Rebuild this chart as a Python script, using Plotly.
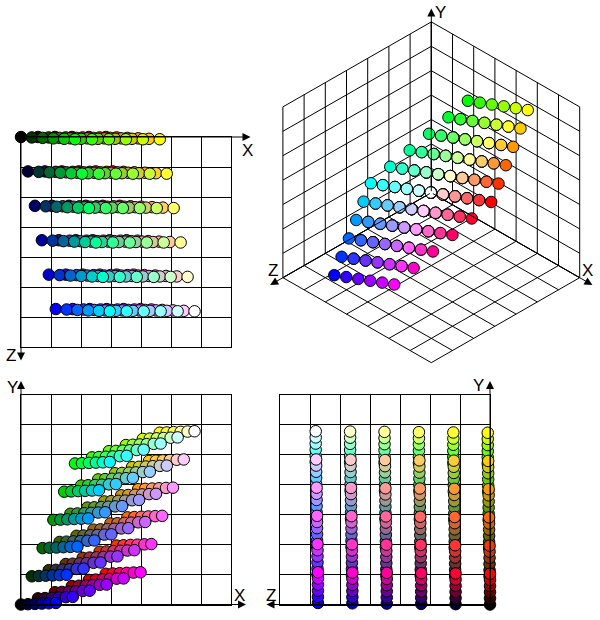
import itertools
import plotly.graph_objects as go

# Six levels of each colour channel (web-safe palette)
CHANNEL_LEVELS = [0, 51, 102, 153, 204, 255]

# Position on each plotted axis (in grid cells) contributed by each channel level
X_FROM_R = [0.0, 0.565, 1.13, 1.695, 2.26, 2.825]
X_FROM_G = [0.0, 0.36, 0.72, 1.08, 1.44, 1.80]
X_FROM_B = [0.0, 0.232, 0.464, 0.696, 0.928, 1.16]
Y_FROM_R = [0.0, 0.205, 0.41, 0.615, 0.82, 1.025]
Y_FROM_G = [0.0, 0.94, 1.88, 2.82, 3.76, 4.70]
Y_FROM_B = [0.0, 0.01, 0.02, 0.03, 0.04, 0.05]
Z_FROM_G = [0.0, 0.015, 0.03, 0.045, 0.06, 0.075]
Z_FROM_B = [0.0, 1.147, 2.294, 3.441, 4.588, 5.735]

GRID_STEPS = [0, 1, 2, 3, 4, 5, 6, 7]
AXIS_LABELS = ["X", "Y", "Z"]

W, H = 600, 620
FONT = dict(family="Liberation Sans, Arial, sans-serif", size=17, color="black")

xs, ys, zs, colors = [], [], [], []
for ir, ig, ib in itertools.product(range(6), repeat=3):
    xs.append(X_FROM_R[ir] + X_FROM_G[ig] + X_FROM_B[ib])
    ys.append(Y_FROM_R[ir] + Y_FROM_G[ig] + Y_FROM_B[ib])
    zs.append(Z_FROM_G[ig] + Z_FROM_B[ib])
    colors.append(f"rgb({CHANNEL_LEVELS[ir]},{CHANNEL_LEVELS[ig]},{CHANNEL_LEVELS[ib]})")

# isometric projection factors (grid cells on screen per cell of data)
ISO_U, ISO_V, ISO_Y = 21.2 / 30, 12.14 / 30, 24.4 / 30


def iso(x, y, z):
    return (x - z) * ISO_U, y * ISO_Y - (x + z) * ISO_V


def order(keys):
    return sorted(range(len(keys)), key=lambda i: keys[i])


fig = go.Figure()


def add_points(px, py, depth, xa, ya):
    idx = order(depth)
    fig.add_trace(go.Scatter(
        x=[px[i] for i in idx], y=[py[i] for i in idx], mode="markers",
        xaxis=xa, yaxis=ya, cliponaxis=False, hoverinfo="skip", showlegend=False,
        marker=dict(size=11.5, color=[colors[i] for i in idx], line=dict(color="black", width=1)),
    ))


def panel_axis(x0, x1, rng):
    return dict(domain=[x0, x1], range=rng, tick0=0, dtick=1, showgrid=True, gridcolor="black",
                gridwidth=1, showline=True, mirror=True, linecolor="black", linewidth=1,
                zeroline=False, showticklabels=False, ticks="", fixedrange=True)


def px_x(v):
    return v / W


def px_y(v):
    return 1 - v / H


layout = dict(
    width=W, height=H, margin=dict(l=0, r=0, t=0, b=0, pad=0), autosize=False,
    paper_bgcolor="white", plot_bgcolor="white", showlegend=False,
)

# top-left X-Z
layout["xaxis"] = dict(panel_axis(px_x(21), px_x(231), [0, 7]), anchor="y")
layout["yaxis"] = dict(panel_axis(px_y(347), px_y(137), [7, 0]), anchor="x")
# bottom-left X-Y
layout["xaxis3"] = dict(panel_axis(px_x(21), px_x(231), [0, 7]), anchor="y3")
layout["yaxis3"] = dict(panel_axis(px_y(604.5), px_y(394.5), [0, 7]), anchor="x3")
# bottom-right Z-Y
layout["xaxis4"] = dict(panel_axis(px_x(280), px_x(490), [7, 0]), anchor="y4")
layout["yaxis4"] = dict(panel_axis(px_y(604.5), px_y(394.5), [0, 7]), anchor="x4")
# isometric
OX, OY = 431.3, 192.7
L, R, T, B = 262.0, 600.0, 0.0, 372.0
layout["xaxis2"] = dict(domain=[px_x(L), px_x(R)], range=[(L - OX) / 30, (R - OX) / 30], visible=False,
                        anchor="y2", fixedrange=True)
layout["yaxis2"] = dict(domain=[px_y(B), px_y(T)], range=[(OY - B) / 30, (OY - T) / 30], visible=False,
                        anchor="x2", fixedrange=True)

# isometric wall and floor grid
gx, gy = [], []
last = GRID_STEPS[-1]


def seg(a, b):
    ua, va = iso(*a)
    ub, vb = iso(*b)
    gx.extend([ua, ub, None])
    gy.extend([va, vb, None])


for s in GRID_STEPS:
    seg((s, 0, 0), (s, 0, last))
    seg((0, 0, s), (last, 0, s))
    seg((s, 0, 0), (s, last, 0))
    seg((0, s, 0), (last, s, 0))
    seg((0, 0, s), (0, last, s))
    seg((0, s, 0), (0, s, last))
fig.add_trace(go.Scatter(x=gx, y=gy, mode="lines", xaxis="x2", yaxis="y2", hoverinfo="skip",
                         showlegend=False, line=dict(color="black", width=1)))

add_points(xs, zs, ys, "x", "y")
iu, iv = zip(*[iso(a, b, c) for a, b, c in zip(xs, ys, zs)])
add_points(iu, iv, [a + b + c for a, b, c in zip(xs, ys, zs)], "x2", "y2")
add_points(xs, ys, zs, "x3", "y3")
add_points(zs, ys, xs, "x4", "y4")


def arrow(xa, ya, tail, tip):
    return dict(xref=xa, yref=ya, axref=xa, ayref=ya, x=tip[0], y=tip[1], ax=tail[0], ay=tail[1], text="",
                showarrow=True, arrowhead=2, arrowsize=1.6, arrowwidth=1, arrowcolor="black")


def label(text, x, y):
    return dict(xref="paper", yref="paper", x=px_x(x), y=px_y(y), text=text, showarrow=False, font=FONT,
                xanchor="center", yanchor="middle")


ox3, oy3 = iso(last + 0.6, 0, 0)
zx3, zy3 = iso(0, 0, last + 0.6)
yx3, yy3 = iso(0, 7.55, 0)
X_, Y_, Z_ = AXIS_LABELS
fig.update_layout(**layout, annotations=[
    arrow("x", "y", (0, 0), (7.65, 0)), arrow("x", "y", (0, 0), (0, 7.45)),
    arrow("x3", "y3", (0, 0), (7.5, 0)), arrow("x3", "y3", (0, 0), (0, 7.45)),
    arrow("x4", "y4", (0, 0), (7.45, 0)), arrow("x4", "y4", (0, 0), (0, 7.45)),
    arrow("x2", "y2", (0, 0), (ox3, oy3)), arrow("x2", "y2", (0, 0), (zx3, zy3)),
    arrow("x2", "y2", (0, 0), (yx3, yy3)),
    label(X_, 247, 150), label(Z_, 10.5, 355),
    label(X_, 239, 595), label(Y_, 12, 387),
    label(Z_, 271, 595), label(Y_, 478.5, 385),
    label(Z_, 273, 271), label(X_, 587.5, 271), label(Y_, 440.5, 12),
])

fig.write_html("out.html", config=dict(displayModeBar=False, staticPlot=True),
               post_script="document.body.style.margin='0';document.body.style.overflow='hidden';")
